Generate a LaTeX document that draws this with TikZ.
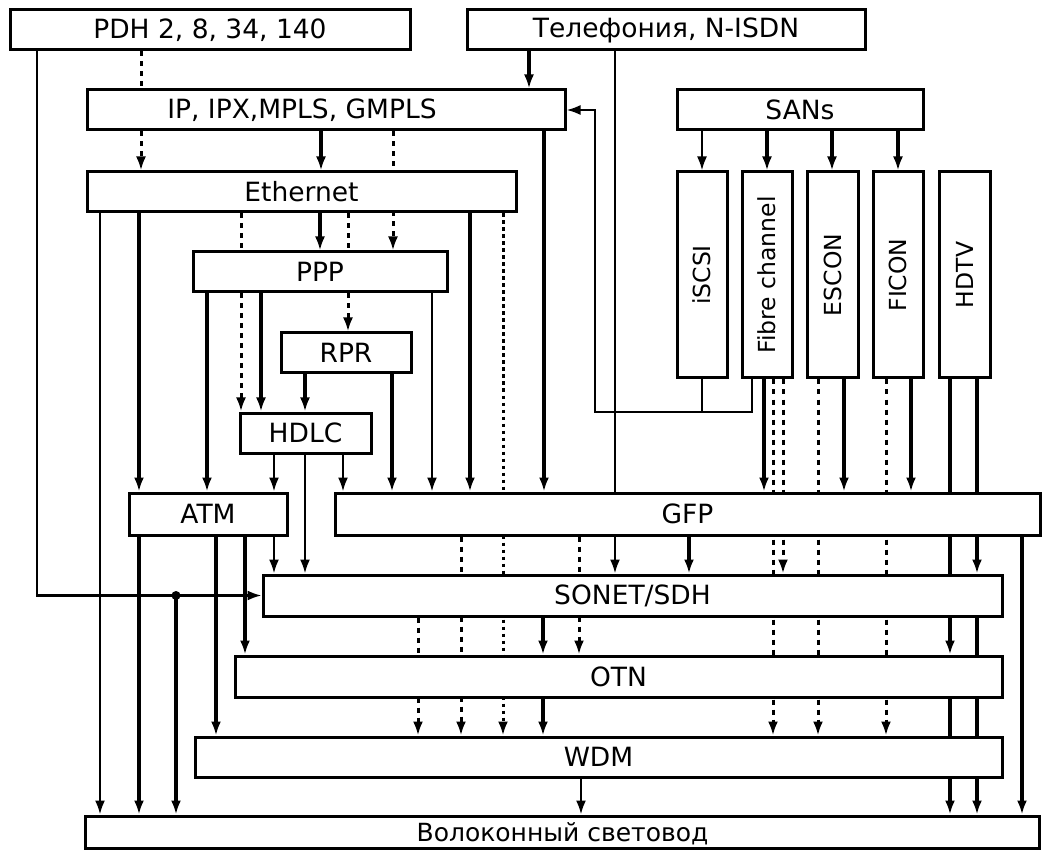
\documentclass[tikz,border=0pt]{standalone}
\usepackage{fontspec}
\setmainfont{DejaVu Sans}
\usetikzlibrary{arrows.meta}
\pgfdeclarelayer{bg}
\pgfsetlayers{bg,main}
\tikzset{
  box/.style={draw, line width=3pt, fill=white, inner sep=0pt, font=\fontsize{26.5}{30}\selectfont},
  lab/.style={inner sep=0pt, font=\fontsize{26.5}{30}\selectfont},
  vlab/.style={inner sep=0pt, rotate=90, font=\fontsize{23.5}{26}\selectfont},
  thn/.style={line width=2.3pt},
  thk/.style={line width=3.4pt},
  dsh/.style={line width=3pt, dash pattern=on 5pt off 5pt},
  dtt/.style={line width=3pt, dash pattern=on 3.5pt off 3.5pt},
  ar/.style={-{Latex[length=14pt,width=10pt]}},
}
\newcommand\bx[6]{\node[box, minimum width={#4-#2}, minimum height={#5-#3}] (#1) at ({(#2+#4)/2},{(#3+#5)/2}) {#6};}
\newcommand\vcon[4]{\draw[#1] (#2,0 |- #3.south) -- (#2,0 |- #4.north);}
\begin{document}
\begin{tikzpicture}[x=1pt,y=-1pt]
\useasboundingbox (0,0) rectangle (1042,850);
% boxes
\bx{pdh}{10}{10}{410}{50}{PDH 2, 8, 34, 140}
\bx{tel}{467}{10}{865}{50}{Телефония, N-ISDN}
\bx{ip}{87}{90}{565}{130}{}
\node[lab] (ipt) at (302,110) {IP, IPX,MPLS, GMPLS};
\bx{sans}{677}{90}{923}{130}{SANs}
\bx{eth}{87}{172}{516}{212}{Ethernet}
\bx{ppp}{193}{252}{447}{292}{PPP}
\bx{rpr}{281}{333}{411}{373}{RPR}
\bx{hdlc}{240}{413}{371}{453}{HDLC}
\bx{atm}{129}{493}{287}{535}{ATM}
\bx{gfp}{335}{493}{1040}{535}{GFP}
\bx{sonet}{263}{575}{1002}{616}{SONET/SDH}
\bx{otn}{235}{656}{1002}{697}{OTN}
\bx{wdm}{195}{737}{1002}{777}{WDM}
\bx{fib}{85}{816}{1039}{848}{}
\node[lab, anchor=base, font=\fontsize{25}{28}\selectfont] (fibt) at (562.5,841) {Волоконный световод};
\bx{iscsi}{677}{172}{727}{378}{}
\bx{fc}{742}{172}{792}{378}{}
\bx{escon}{807}{172}{858}{378}{}
\bx{ficon}{873}{172}{923}{378}{}
\bx{hdtv}{939}{172}{990}{378}{}
\node[vlab] (iscsit) at (iscsi.center) {iSCSI};
\node[vlab] (fct) at (fc.center) {Fibre channel};
\node[vlab] (escont) at (escon.center) {ESCON};
\node[vlab] (ficont) at (ficon.center) {FICON};
\node[vlab] (hdtvt) at (hdtv.center) {HDTV};
\begin{pgfonlayer}{bg}
% PDH
\vcon{dsh,ar}{141}{pdh}{eth}
\draw[thn,ar] (37,0 |- pdh.south) |- (sonet.west);
\coordinate (j1) at (176,0 |- sonet.west);
\fill (j1) circle (4.5pt);
\draw[thk,ar] (j1) -- (176,0 |- fib.north);
% Telephony
\vcon{thk,ar}{529}{tel}{ip}
\vcon{thn,ar}{615}{tel}{sonet}
% IP
\vcon{thk,ar}{321}{ip}{eth}
\vcon{dsh,ar}{393}{ip}{ppp}
\vcon{thk,ar}{544}{ip}{gfp}
% Ethernet
\vcon{thn,ar}{100}{eth}{fib}
\vcon{thk,ar}{139}{eth}{atm}
\vcon{dsh,ar}{241}{eth}{hdlc}
\vcon{thk,ar}{320}{eth}{ppp}
\vcon{dsh,ar}{348}{eth}{rpr}
\vcon{thk,ar}{470}{eth}{gfp}
\vcon{dtt,ar}{503}{eth}{wdm}
% PPP
\vcon{thk,ar}{207}{ppp}{atm}
\vcon{thk,ar}{261}{ppp}{hdlc}
\vcon{thn,ar}{432}{ppp}{gfp}
% RPR
\vcon{thk,ar}{305}{rpr}{hdlc}
\vcon{thk,ar}{392}{rpr}{gfp}
% HDLC
\vcon{thn,ar}{274}{hdlc}{atm}
\vcon{thn,ar}{305}{hdlc}{sonet}
\vcon{thn,ar}{343}{hdlc}{gfp}
% ATM
\vcon{thk,ar}{139}{atm}{fib}
\vcon{thk,ar}{216}{atm}{wdm}
\vcon{thk,ar}{245}{atm}{otn}
\vcon{thn,ar}{274}{atm}{sonet}
% GFP
\vcon{dsh,ar}{461}{gfp}{wdm}
\vcon{dsh,ar}{579}{gfp}{otn}
\vcon{thk,ar}{689}{gfp}{sonet}
\vcon{thk,ar}{1022}{gfp}{fib}
% SONET, OTN, WDM
\vcon{dsh,ar}{418}{sonet}{wdm}
\vcon{thk,ar}{543}{sonet}{otn}
\vcon{thk,ar}{543}{otn}{wdm}
\vcon{thn,ar}{581}{wdm}{fib}
% SANs
\vcon{thn,ar}{702}{sans}{iscsi}
\vcon{thk,ar}{767}{sans}{fc}
\vcon{thk,ar}{832}{sans}{escon}
\vcon{thk,ar}{898}{sans}{ficon}
% iSCSI / FC back to IP
\coordinate (jn) at (702,412);
\draw[thn] (iscsi.south) -- (jn);
\draw[thn,ar] (752,0 |- fc.south) |- (595,412) |- (ip.east);
% FC
\vcon{thk,ar}{764}{fc}{gfp}
\vcon{dsh,ar}{773}{fc}{wdm}
\vcon{dsh,ar}{783}{fc}{sonet}
% ESCON
\vcon{dsh,ar}{818}{escon}{wdm}
\vcon{thk,ar}{844}{escon}{gfp}
% FICON
\vcon{dsh,ar}{886}{ficon}{wdm}
\vcon{thk,ar}{911}{ficon}{gfp}
% HDTV
\vcon{thk,ar}{950}{hdtv}{otn}
\vcon{thk,ar}{950}{otn}{fib}
\vcon{thk,ar}{977}{hdtv}{sonet}
\vcon{thk,ar}{977}{sonet}{fib}
\end{pgfonlayer}
\end{tikzpicture}
\end{document}
